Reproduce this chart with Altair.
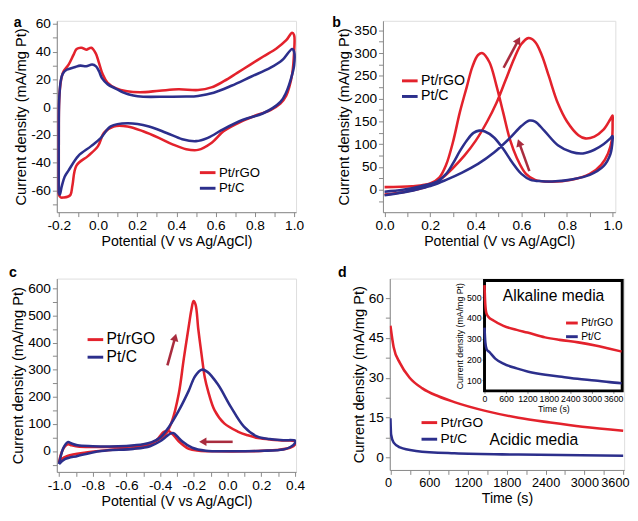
import altair as alt
import pandas as pd

FONT = "Liberation Sans"
RED = "#e3222c"
BLUE = "#2c2f8c"
ARROW_COLOR = "#a92c3e"
SERIES = ["Pt/rGO", "Pt/C"]

# ---------------- panel a : CV in acid (x: potential V, y: mA/mg Pt)
a_rgo = [(-0.2, -63), (-0.2, -30), (-0.199, 0), (-0.195, 12), (-0.185, 22), (-0.175, 26),
         (-0.15, 30.7), (-0.125, 37.7), (-0.109, 42), (-0.084, 42.9), (-0.06, 41.5),
         (-0.034, 42.9), (-0.012, 39), (0.005, 32), (0.024, 23.7), (0.048, 17.8), (0.09, 13.8),
         (0.148, 11.5), (0.214, 10.8), (0.313, 11.9), (0.41, 13), (0.51, 12.4), (0.578, 14.3),
         (0.644, 19), (0.71, 24.8), (0.777, 30.7), (0.843, 36.6), (0.91, 42.4), (0.96, 48.3),
         (0.99, 53.7), (1.0, 52), (1.0, 40), (0.99, 23.7), (0.975, 14.3), (0.96, 8.4),
         (0.93, 2.6), (0.88, -2), (0.81, -5.6), (0.73, -10.3), (0.64, -17.3), (0.58, -25.5),
         (0.51, -30.7), (0.45, -30.2), (0.38, -26.7), (0.31, -22), (0.23, -17.3), (0.15, -13.8),
         (0.08, -13.8), (0.03, -18.5), (0.0, -28), (-0.05, -35), (-0.11, -42), (-0.13, -56),
         (-0.14, -63), (-0.155, -64.5), (-0.175, -65), (-0.19, -65), (-0.2, -63)]
a_c = [(-0.2, -62), (-0.2, -20), (-0.198, 5), (-0.19, 19), (-0.18, 24), (-0.16, 27),
       (-0.12, 28.8), (-0.09, 30), (-0.06, 29.5), (-0.03, 30.8), (-0.01, 29.5), (0.005, 26),
       (0.02, 21), (0.05, 16.5), (0.09, 13.5), (0.13, 10.5), (0.18, 8.4), (0.23, 7.6),
       (0.35, 7.6), (0.45, 7.7), (0.51, 8.2), (0.59, 10.5), (0.68, 15.5), (0.78, 22),
       (0.88, 28.5), (0.94, 34), (0.99, 42), (1.0, 40), (1.0, 30), (0.985, 21), (0.96, 10.8),
       (0.93, 3.8), (0.84, -4.5), (0.74, -9), (0.64, -15.7), (0.56, -22), (0.5, -24.4),
       (0.43, -23), (0.35, -18.5), (0.26, -13.8), (0.15, -11.5), (0.065, -13.8), (0.015, -22),
       (-0.035, -28), (-0.1, -35), (-0.15, -45.5), (-0.17, -50), (-0.185, -57), (-0.195, -63),
       (-0.2, -62)]

# ---------------- panel b : methanol oxidation in acid
b_rgo = [(0.0, -10), (0.08, -5), (0.15, 2), (0.2, 10), (0.25, 25), (0.30, 48), (0.35, 75),
         (0.40, 108), (0.45, 150), (0.49, 190), (0.53, 240), (0.57, 290), (0.60, 320),
         (0.63, 333), (0.66, 325), (0.69, 295), (0.72, 250), (0.76, 190), (0.80, 150),
         (0.85, 120), (0.88, 113), (0.92, 117), (0.96, 132), (0.99, 155), (1.0, 163),
         (1.0, 150), (0.997, 110), (0.98, 80), (0.95, 55), (0.9, 35), (0.82, 22), (0.72, 18),
         (0.66, 22), (0.62, 35), (0.58, 70), (0.55, 110), (0.52, 170), (0.49, 230), (0.46, 280),
         (0.43, 300), (0.41, 296), (0.385, 270), (0.36, 225), (0.33, 170), (0.30, 105),
         (0.27, 55), (0.24, 27), (0.2, 14), (0.12, 8), (0.0, 6)]
b_c = [(0.0, -12), (0.08, -6), (0.15, 2), (0.21, 10), (0.27, 22), (0.34, 38), (0.41, 57),
       (0.48, 82), (0.55, 114), (0.6, 140), (0.635, 152), (0.66, 150), (0.7, 130), (0.76, 98),
       (0.82, 83), (0.87, 80), (0.92, 88), (0.96, 100), (0.99, 113), (1.0, 118), (1.0, 110),
       (0.99, 78), (0.96, 52), (0.9, 33), (0.82, 23), (0.75, 19), (0.69, 19), (0.64, 22),
       (0.6, 35), (0.56, 60), (0.52, 90), (0.48, 115), (0.44, 128), (0.415, 130), (0.39, 125),
       (0.36, 108), (0.33, 85), (0.3, 58), (0.27, 35), (0.23, 18), (0.16, 8), (0.08, 0),
       (0.0, -4)]
b_arrows = [(0.522, 268, 0.584, 326, 28), (0.635, 41, 0.592, 101, 341)]

# ---------------- panel c : alcohol oxidation in alkaline media
c_rgo = [(-1.0, -42), (-0.99, -15), (-0.975, 8), (-0.96, 20), (-0.946, 25), (-0.925, 21),
         (-0.89, 17), (-0.8, 15), (-0.7, 15), (-0.6, 17), (-0.5, 22), (-0.45, 30), (-0.41, 42),
         (-0.37, 60), (-0.33, 110), (-0.29, 210), (-0.26, 340), (-0.23, 462), (-0.215, 520),
         (-0.202, 553), (-0.19, 540), (-0.174, 450), (-0.154, 354), (-0.135, 270),
         (-0.116, 222), (-0.077, 150), (-0.02, 102), (0.06, 72), (0.12, 58), (0.18, 48),
         (0.26, 42), (0.33, 39), (0.4, 36), (0.4, 24), (0.37, 12), (0.29, 3.6), (0.12, -1),
         (-0.08, -1), (-0.17, 1), (-0.23, 8), (-0.29, 36), (-0.33, 65), (-0.355, 75),
         (-0.38, 70), (-0.41, 48), (-0.45, 26), (-0.52, 12), (-0.66, 6), (-0.85, -6),
         (-0.95, -18), (-0.985, -30), (-1.0, -42)]
c_c = [(-1.0, -48), (-0.99, -20), (-0.975, 10), (-0.96, 26), (-0.946, 33), (-0.925, 28),
       (-0.89, 21), (-0.8, 18), (-0.7, 17), (-0.6, 19), (-0.5, 25), (-0.45, 33), (-0.4, 50),
       (-0.347, 90), (-0.289, 150), (-0.231, 222), (-0.193, 276), (-0.154, 300), (-0.12, 292),
       (-0.058, 246), (0.02, 162), (0.097, 90), (0.174, 54), (0.25, 44), (0.33, 40), (0.4, 38),
       (0.4, 30), (0.37, 14), (0.33, 6), (0.21, 1), (0.02, -1), (-0.13, 1), (-0.21, 12),
       (-0.27, 36), (-0.3, 55), (-0.32, 66), (-0.34, 64), (-0.37, 50), (-0.4, 36),
       (-0.46, 18), (-0.56, 8), (-0.75, 0), (-0.89, -18), (-0.965, -30), (-1.0, -48)]
c_arrows = [(-0.357, 316, -0.313, 415, 15), (0.03, 34, -0.14, 34, 270)]

# ---------------- panel d : chronoamperometry (acid) + inset (alkaline)
d_rgo = [(0, 49.6), (49, 41.6), (148, 35.5), (297, 30), (494, 26), (742, 23), (989, 20.8),
         (1484, 17.4), (1978, 14.9), (2473, 13.1), (2967, 11.5), (3600, 10)]
d_c = [(0, 14.7), (10, 8.6), (50, 5.5), (148, 3.7), (396, 2.4), (989, 1.5), (1978, 1.0),
       (3600, 0.6)]
inset_rgo = [(0, 558), (20, 470), (50, 425), (112, 405), (250, 388), (530, 362), (900, 343),
             (1200, 330), (1692, 307), (2100, 295), (2623, 283), (3100, 268), (3500, 252),
             (3832, 239)]
inset_c = [(0, 354), (23, 283), (60, 250), (140, 236), (300, 205), (530, 181), (900, 158),
           (1226, 142), (1700, 127), (2157, 118), (2600, 108), (3088, 100), (3500, 92),
           (3832, 87)]

# tick values (major + minor)
a_xticks = [-0.2, -0.1, 0.0, 0.1, 0.2, 0.3, 0.4, 0.5, 0.6, 0.7, 0.8, 0.9, 1.0]
a_yticks = [-70, -60, -50, -40, -30, -20, -10, 0, 10, 20, 30, 40, 50, 60]
b_xticks = [0.0, 0.1, 0.2, 0.3, 0.4, 0.5, 0.6, 0.7, 0.8, 0.9, 1.0]
b_yticks = [-25, 0, 25, 50, 75, 100, 125, 150, 175, 200, 225, 250, 275, 300, 325, 350]
c_xticks = [-1.0, -0.9, -0.8, -0.7, -0.6, -0.5, -0.4, -0.3, -0.2, -0.1, 0.0, 0.1, 0.2, 0.3, 0.4]
c_yticks = [-50, 0, 50, 100, 150, 200, 250, 300, 350, 400, 450, 500, 550, 600]
d_xticks = [0, 300, 600, 900, 1200, 1500, 1800, 2100, 2400, 2700, 3000, 3300, 3600]
d_yticks = [0, 7.5, 15, 22.5, 30, 37.5, 45, 52.5, 60]
inset_xticks = [0, 600, 1200, 1800, 2400, 3000, 3600]
inset_yticks = [100, 200, 300, 400, 500]

XTITLE = "Potential (V vs Ag/AgCl)"
YTITLE = "Current density (mA/mg Pt)"


def loop_df(points, series):
    return pd.DataFrame({"x": [p[0] for p in points], "y": [p[1] for p in points],
                         "series": series, "i": list(range(len(points)))})


def arrow_df(arrows):
    return pd.DataFrame({"x0": [a[0] for a in arrows], "y0": [a[1] for a in arrows],
                         "x1": [a[2] for a in arrows], "y1": [a[3] for a in arrows],
                         "ang": [a[4] for a in arrows]})


def fix_minus(expr):
    return "replace(" + expr + ", '\u2212', '-')"


def make_axis(title, values, major, fmt, titlesize, tpad, labelsize=14, **kw):
    return alt.Axis(title=title, values=values,
                    labelExpr="(" + major + ") ? " + fix_minus("format(datum.value, '" + fmt + "')") + " : ''",
                    tickSize=4.5, labelOverlap=False, labelBound=False, grid=False,
                    labelFontSize=labelsize, titleFontSize=titlesize, titleFontWeight="normal",
                    labelPadding=2, titlePadding=tpad, **kw)


def xaxis(title, values, major, fmt, **kw):
    if "labelFlush" not in kw:
        kw["labelFlush"] = False
    return make_axis(title, values, major, fmt, 14.5, 3, **kw)


def yaxis(values, major):
    return make_axis(YTITLE, values, major, "d", 15, 2, labelFlush=False)


def letter_layer(letter, px, py):
    # panel letter placed in the panel's own pixel frame (top-left corner annotation)
    return alt.Chart(pd.DataFrame({"t": [letter]})).mark_text(
        fontSize=14.5, fontWeight="bold", font=FONT, color="black", align="left",
        baseline="top").encode(x=alt.value(px), y=alt.value(py), text="t:N")


def panel(rgo, c, xdom, ydom, xax, yax, legend, w, h, letter, lx, ly, arrows=None):
    xs = alt.Scale(domain=xdom, zero=False, nice=False)
    ys = alt.Scale(domain=ydom, zero=False, nice=False)
    cs = alt.Scale(domain=SERIES, range=[RED, BLUE])
    layers = []
    for pts, name in ((rgo, "Pt/rGO"), (c, "Pt/C")):
        layers.append(alt.Chart(loop_df(pts, name)).mark_line(
            strokeWidth=2.6, interpolate="catmull-rom", clip=True).encode(
            x=alt.X("x:Q", scale=xs, axis=xax),
            y=alt.Y("y:Q", scale=ys, axis=yax),
            color=alt.Color("series:N", scale=cs, legend=legend),
            order="i:Q"))
    if arrows is not None:
        adf = arrow_df(arrows)
        layers.append(alt.Chart(adf).mark_rule(color=ARROW_COLOR, strokeWidth=2.6).encode(
            x=alt.X("x0:Q", scale=xs, axis=xax), y=alt.Y("y0:Q", scale=ys, axis=yax),
            x2="x1:Q", y2="y1:Q"))
        layers.append(alt.Chart(adf).mark_point(shape="triangle", filled=True, size=75,
                                                color=ARROW_COLOR, opacity=1).encode(
            x=alt.X("x1:Q", scale=xs, axis=xax), y=alt.Y("y1:Q", scale=ys, axis=yax),
            angle=alt.Angle("ang:Q", scale=None)))
    layers.append(letter_layer(letter, lx, ly))
    return alt.layer(*layers).properties(width=w, height=h)


def legend(x, y, size=14.5, sym=256, rowpad=0):
    return alt.Legend(orient="none", legendX=x, legendY=y, title=None, symbolType="stroke",
                      symbolSize=sym, symbolStrokeWidth=3, labelFontSize=size, labelFont=FONT,
                      labelColor="black", rowPadding=rowpad, labelOffset=2, padding=0)


pa = panel(a_rgo, a_c, [-0.21, 1.01], [-75.6, 62.3],
           xaxis(XTITLE, a_xticks, "abs(round(datum.value*10)) % 2 == 0", ".1f"),
           yaxis(a_yticks, "datum.value % 20 == 0"),
           legend(145, 146, 13.5), 245, 196, "a", -44, -5)

pb = panel(b_rgo, b_c, [-0.007, 1.012], [-49, 371],
           xaxis(XTITLE, b_xticks, "abs(round(datum.value*10)) % 2 == 0", ".1f"),
           yaxis(b_yticks, "datum.value % 50 == 0"),
           legend(18, 52, 14.5), 238, 196, "b", -52, -5, arrows=b_arrows)

pc = panel(c_rgo, c_c, [-1.013, 0.406], [-77, 636],
           xaxis(XTITLE, c_xticks, "abs(round(datum.value*10)) % 2 == 0", ".1f"),
           yaxis(c_yticks, "datum.value % 100 == 0"),
           legend(30, 53, 16), 245, 198, "c", -49, -13, arrows=c_arrows)

# panel d main + inset
d_xs = alt.Scale(domain=[-10, 3615], zero=False, nice=False)
d_ys = alt.Scale(domain=[-4.8, 67.4], zero=False, nice=False)
d_xaxis = xaxis("Time (s)", d_xticks, "datum.value % 600 == 0", "d",
                labelsize=13, labelFlush=True, labelFlushOffset=6)
d_yaxis = yaxis(d_yticks, "datum.value % 15 == 0")
d_cs = alt.Scale(domain=SERIES, range=[RED, BLUE])
d_layers = []
for pts, name in ((d_rgo, "Pt/rGO"), (d_c, "Pt/C")):
    d_layers.append(alt.Chart(loop_df(pts, name)).mark_line(
        strokeWidth=2.6, interpolate="monotone", clip=True).encode(
        x=alt.X("x:Q", scale=d_xs, axis=d_xaxis), y=alt.Y("y:Q", scale=d_ys, axis=d_yaxis),
        color=alt.Color("series:N", scale=d_cs, legend=legend(31, 138, 14)), order="i:Q"))
d_layers.append(alt.Chart(pd.DataFrame({"x": [2218], "y": [6.6], "t": ["Acidic media"]}))
                .mark_text(fontSize=16, font=FONT, color="black")
                .encode(x=alt.X("x:Q", scale=d_xs, axis=d_xaxis),
                        y=alt.Y("y:Q", scale=d_ys, axis=d_yaxis), text="t:N"))
d_layers.append(letter_layer("d", -53, -13))
d_main = alt.layer(*d_layers)

in_xs = alt.Scale(domain=[0, 3850], zero=False, nice=False, range=[97, 238])
in_ys = alt.Scale(domain=[50, 580], zero=False, nice=False, range=[115, 2])
in_axis_common = dict(grid=False, labelFlush=False, labelOverlap=False, labelBound=False,
                      labelFontSize=9, titleFontSize=9, titleFontWeight="normal", tickSize=2.5,
                      labelPadding=1, titlePadding=2, domain=False)
in_xaxis = alt.Axis(title="Time (s)", values=inset_xticks, format="d", orient="bottom",
                    offset=-81, **in_axis_common)
in_yaxis = alt.Axis(title=YTITLE, values=inset_yticks, format="d", orient="left",
                    offset=-97, **in_axis_common)
in_cs = alt.Scale(domain=SERIES, range=[RED, BLUE])
in_layers = [alt.Chart(pd.DataFrame({"a": [0]})).mark_rect(
    fill="white", stroke="black", strokeWidth=3).encode(
    x=alt.X(datum=0, type="quantitative", scale=in_xs, axis=in_xaxis),
    x2=alt.X2(datum=3850),
    y=alt.Y(datum=50, type="quantitative", scale=in_ys, axis=in_yaxis),
    y2=alt.Y2(datum=580))]
for pts, name in ((inset_rgo, "Pt/rGO"), (inset_c, "Pt/C")):
    in_layers.append(alt.Chart(loop_df(pts, name)).mark_line(
        strokeWidth=2.6, interpolate="monotone").encode(
        x=alt.X("x:Q", scale=in_xs, axis=in_xaxis), y=alt.Y("y:Q", scale=in_ys, axis=in_yaxis),
        color=alt.Color("series:N", scale=in_cs,
                        legend=legend(179, 38, 10.5, sym=144, rowpad=-1)), order="i:Q"))
in_layers.append(alt.Chart(pd.DataFrame({"x": [1930], "y": [503], "t": ["Alkaline media"]}))
                 .mark_text(fontSize=16, font=FONT, color="black")
                 .encode(x=alt.X("x:Q", scale=in_xs, axis=in_xaxis),
                         y=alt.Y("y:Q", scale=in_ys, axis=in_yaxis), text="t:N"))
d_inset = alt.layer(*in_layers)

pd_ = alt.layer(d_main, d_inset).resolve_scale(
    x="independent", y="independent", color="independent").properties(width=240, height=196)

row1 = alt.hconcat(pa, pb, spacing=27).resolve_scale(color="independent")
row2 = alt.hconcat(pc, pd_, spacing=32).resolve_scale(color="independent")
chart = alt.vconcat(row1, row2, spacing=15).resolve_scale(color="independent").properties(
    padding={"left": 0, "top": 0, "right": 0, "bottom": 0}
).configure_view(stroke="black", strokeWidth=2.5).configure_axis(
    labelFont=FONT, titleFont=FONT, labelColor="black", titleColor="black",
    domainColor="black", domainWidth=2.5, tickColor="black", tickWidth=1.8
).configure(background="white")

chart.save("out.html", embed_options={"renderer": "svg", "actions": False})
